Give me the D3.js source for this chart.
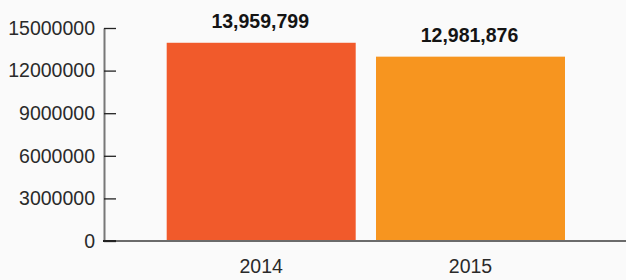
<!DOCTYPE html>
<html>
<head>
<meta charset="utf-8">
<script src="https://cdn.jsdelivr.net/npm/d3@7"></script>
<style>
  html, body { margin: 0; padding: 0; background: #fafafa; }
  svg { display: block; font-family: "Liberation Sans", Arial, Helvetica, sans-serif; }
</style>
</head>
<body>
<svg id="chart" width="626" height="280"></svg>
<script>
const categories = ["2014", "2015"];
const values = [13959799, 12981876];
const colors = ["#f15a2b", "#f7951f"];
const yTicks = [0, 3000000, 6000000, 9000000, 12000000, 15000000];

const svg = d3.select("#chart");
const W = 626, H = 280;
const axisX = 104, yTop = 28, yBottom = 241;

svg.append("rect").attr("width", W).attr("height", H).attr("fill", "#fafafa");

const y = d3.scaleLinear().domain([0, 15000000]).range([yBottom, yTop]);
const x = d3.scaleBand().domain(categories).range([166.7, 565]).paddingInner(0.097).paddingOuter(0);

// y axis
const yAxis = d3.axisLeft(y).tickValues(yTicks).tickFormat(d3.format("d"))
  .tickSizeInner(-12).tickSizeOuter(0).tickPadding(9);
const gy = svg.append("g").attr("transform", `translate(${axisX},0)`).call(yAxis);
gy.select(".domain").attr("stroke", "#777").attr("stroke-width", 2);
gy.selectAll(".tick line").attr("stroke", "#222").attr("stroke-width", 1.3);
gy.selectAll(".tick text").attr("fill", "#2a2a2a").style("font-size", "19.5px").attr("font-family", null);

// bars
svg.append("g").selectAll("rect").data(values).join("rect")
  .attr("x", (d, i) => x(categories[i]))
  .attr("y", d => y(d))
  .attr("width", x.bandwidth())
  .attr("height", d => yBottom - y(d))
  .attr("fill", (d, i) => colors[i]);

// x axis line
svg.append("line").attr("x1", axisX - 1).attr("x2", W).attr("y1", yBottom).attr("y2", yBottom)
  .attr("stroke", "#6b6b6b").attr("stroke-width", 2);
svg.append("line").attr("x1", axisX - 1).attr("x2", axisX + 12).attr("y1", yBottom).attr("y2", yBottom)
  .attr("stroke", "#222").attr("stroke-width", 2);

// x labels
const xAxis = d3.axisBottom(x).tickSize(0).tickPadding(0);
const gx = svg.append("g").attr("transform", `translate(0,${yBottom})`).call(xAxis);
gx.select(".domain").remove();
gx.selectAll(".tick text").attr("fill", "#2a2a2a").style("font-size", "19.5px")
  .attr("font-family", null).attr("dy", null).attr("y", 32);

// value labels
svg.append("g").selectAll("text").data(values).join("text")
  .attr("x", (d, i) => x(categories[i]) + x.bandwidth() / 2 - 1)
  .attr("y", d => y(d) - 15)
  .attr("text-anchor", "middle")
  .attr("fill", "#141414")
  .style("font-size", "19.5px")
  .style("font-weight", "bold")
  .text(d => d3.format(",")(d));
</script>
</body>
</html>
